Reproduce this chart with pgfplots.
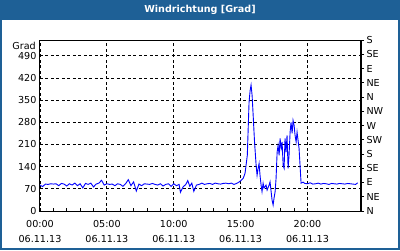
\documentclass[border=0pt]{standalone}
\usepackage{pgfplots}
\pgfplotsset{compat=1.18}
\usepackage{fontspec}
\setmainfont{DejaVu Sans}
\definecolor{frameblue}{RGB}{30,96,150}
\definecolor{lineblue}{RGB}{0,0,255}
\newcommand{\tf}{\fontsize{9.6}{15}\selectfont}
\begin{document}
\begin{tikzpicture}[x=1pt,y=1pt]
\useasboundingbox (0,0) rectangle (400,250);
\fill[white] (0,0) rectangle (400,250);
\fill[frameblue] (0,230) rectangle (400,250);
\draw[frameblue, line width=2pt] (1,1) rectangle (399,249);
\node[white, font=\bfseries\fontsize{9.6}{11}\selectfont] at (200,240) {Windrichtung [Grad]};
\begin{axis}[
  scale only axis, width=321pt, height=171pt, at={(40pt,39pt)}, anchor=south west,
  xmin=0, xmax=24, ymin=0, ymax=540,
  axis line style={line width=1pt},
  xtick={0,5,10,15,20},
  xticklabels={00:00\\06.11.13,05:00\\06.11.13,10:00\\06.11.13,15:00\\06.11.13,20:00\\06.11.13},
  xticklabel style={align=center, font=\tf, yshift=-6pt},
  minor x tick num=4,
  xtick pos=bottom,
  tick align=inside,
  major tick length=3pt, minor tick length=3pt,
  tick style={black, line width=0.8pt},
  ytick={0,70,...,490},
  ytick style={draw=none},
  yticklabel style={font=\tf},
  grid=major,
  major grid style={black, line width=0.8pt, dash pattern=on 3pt off 2.5pt},
  /pgf/number format/assume math mode=true,
  clip mode=individual,
]
\addplot[lineblue, line width=0.9pt] coordinates {
(0.0,82)(0.2,77)(0.4,85)(0.6,84)(0.8,86)(1.0,85)(1.2,86)(1.4,80)(1.6,87)(1.8,85)
(2.0,79)(2.2,86)(2.4,82)(2.6,88)(2.8,80)(3.0,86)(3.2,73)(3.4,87)(3.6,84)(3.8,88)
(4.0,76)(4.2,85)(4.4,88)(4.6,97)(4.8,82)(5.0,86)(5.2,84)(5.4,85)(5.6,80)(5.8,86)
(6.0,84)(6.2,78)(6.4,86)(6.6,99)(6.8,80)(7.0,92)(7.2,63)(7.4,85)(7.6,80)(7.8,86)
(8.0,85)(8.2,84)(8.4,87)(8.6,84)(8.8,82)(9.0,86)(9.2,79)(9.4,84)(9.6,86)(9.8,78)
(10.0,86)(10.2,80)(10.4,84)(10.5,59)(10.7,76)(10.9,84)(11.05,96)(11.2,78)(11.35,88)(11.5,62)
(11.7,82)(11.9,84)(12.1,88)(12.3,84)(12.5,86)(12.7,87)(12.9,84)(13.1,88)(13.3,86)(13.5,85)
(13.7,87)(13.9,88)(14.1,86)(14.3,88)(14.5,84)(14.7,87)(14.9,92)(15.05,97)(15.2,104)(15.33,119)
(15.5,176)(15.63,343)(15.71,380)(15.78,398)(15.86,364)(15.95,292)(16.04,218)(16.16,144)(16.23,113)(16.31,135)
(16.38,150)(16.45,113)(16.53,82)(16.6,61)(16.68,88)(16.75,72)(16.9,82)(16.98,66)(17.13,82)(17.2,92)
(17.35,35)(17.43,19)(17.5,41)(17.58,61)(17.65,103)(17.73,186)(17.8,207)(17.88,176)(17.95,229)(18.03,198)
(18.1,218)(18.18,144)(18.25,135)(18.32,229)(18.4,186)(18.47,239)(18.55,135)(18.62,176)(18.7,249)(18.77,280)
(18.85,245)(18.92,286)(19.0,270)(19.07,239)(19.15,218)(19.22,249)(19.37,197)(19.52,88)(19.67,91)(19.8,87)
(20.0,86)(20.2,89)(20.4,85)(20.6,86)(20.8,88)(21.0,85)(21.2,87)(21.4,86)(21.6,84)(21.8,87)
(22.0,86)(22.2,85)(22.4,87)(22.6,86)(22.8,85)(23.0,87)(23.2,86)(23.4,85)(23.6,84)(23.75,89)
};
\end{axis}
\node[anchor=east, font=\tf, inner sep=0pt] at (36,204) {Grad};
\begin{axis}[
  scale only axis, width=321pt, height=171pt, at={(40pt,39pt)}, anchor=south west,
  xmin=0, xmax=24, ymin=0, ymax=540,
  axis x line=none, axis y line*=right,
  axis line style={line width=1pt, -},
  ytick={0,45,...,540},
  yticklabels={N,NE,E,SE,S,SW,W,NW,N,NE,E,SE,S},
  yticklabel style={font=\tf, xshift=-1pt},
  tick align=outside, major tick length=3pt,
  tick style={black, line width=0.8pt},
]
\end{axis}
\end{tikzpicture}
\end{document}
